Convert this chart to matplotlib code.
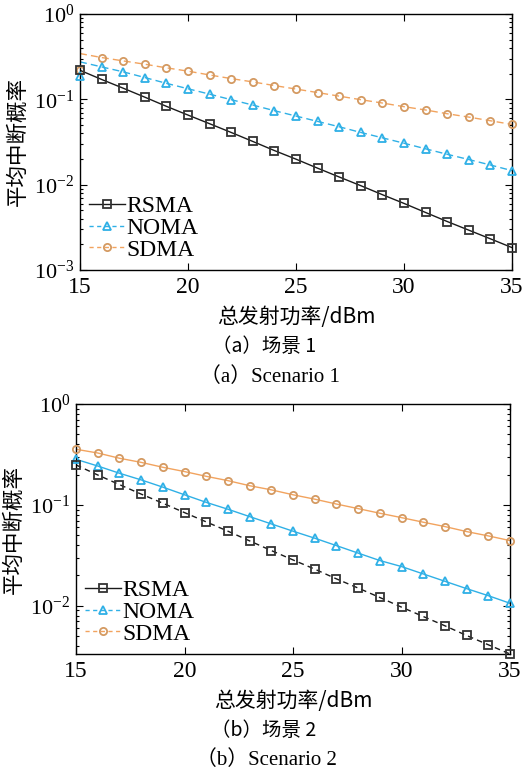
import matplotlib
matplotlib.use("Agg")
import matplotlib.pyplot as plt
from matplotlib.lines import Line2D
from matplotlib.ticker import LogLocator, NullFormatter
import numpy as np

plt.rcParams['font.family'] = ['Liberation Serif', 'Noto Sans CJK SC', 'DejaVu Sans']
plt.rcParams['mathtext.fontset'] = 'stix'

power_dbm = [15, 16, 17, 18, 19, 20, 21, 22, 23, 24, 25, 26, 27, 28, 29, 30, 31, 32, 33, 34, 35]

# Scenario 1 (line values)
rsma_a = [0.219, 0.171, 0.135, 0.106, 0.0828, 0.0654, 0.0518, 0.0409, 0.0321, 0.0251, 0.0199,
          0.0156, 0.0123, 0.00973, 0.00763, 0.00603, 0.00472, 0.00370, 0.00293, 0.00232, 0.00183]
noma_a = [0.275, 0.240, 0.210, 0.180, 0.154, 0.133, 0.115, 0.099, 0.0857, 0.0736, 0.0637,
          0.0551, 0.0477, 0.0409, 0.0354, 0.0306, 0.0263, 0.0227, 0.0197, 0.0170, 0.0146]
sdma_a = [0.344, 0.309, 0.282, 0.258, 0.234, 0.214, 0.193, 0.175, 0.160, 0.145, 0.132,
          0.120, 0.109, 0.099, 0.0905, 0.082, 0.075, 0.0678, 0.0619, 0.0561, 0.0508]
# marker values at 15 dBm in scenario 1 (differ from line start)
noma_a_marker15 = 0.187
sdma_a_marker15 = 0.219

# Scenario 2
rsma_b = [0.249, 0.198, 0.159, 0.128, 0.104, 0.0839, 0.0679, 0.0549, 0.044, 0.0353, 0.0285,
          0.0231, 0.0185, 0.015, 0.0121, 0.0097, 0.00784, 0.00634, 0.00508, 0.00411, 0.00333]
noma_b = [0.283, 0.243, 0.206, 0.177, 0.150, 0.126, 0.106, 0.0906, 0.0766, 0.0648, 0.0549,
          0.0468, 0.0395, 0.0333, 0.0281, 0.0245, 0.0207, 0.0175, 0.0148, 0.0126, 0.0106]
sdma_b = [0.356, 0.327, 0.290, 0.264, 0.236, 0.214, 0.192, 0.174, 0.155, 0.141, 0.126,
          0.114, 0.102, 0.0919, 0.0827, 0.0748, 0.0674, 0.061, 0.0544, 0.0493, 0.0443]

labels = ['RSMA', 'NOMA', 'SDMA']
xticks = [15, 20, 25, 30, 35]
xlabel = '总发射功率/dBm'
ylabel = '平均中断概率'
cap_a_cn, cap_a_en = '（a）场景 1', '（a）Scenario 1'
cap_b_cn, cap_b_en = '（b）场景 2', '（b）Scenario 2'

c_black = '#1a1a1a'
c_blue = '#2fb0e6'
c_orange_line = '#f2a35e'
c_orange_mk = '#d49a62'

W, H = 525, 774
fig = plt.figure(figsize=(W / 100, H / 100), dpi=100)

def ax_rect(l, t, r, b):
    return [l / W, 1 - b / H, (r - l) / W, (b - t) / H]

ax1 = fig.add_axes(ax_rect(80, 14, 512, 270))
ax2 = fig.add_axes(ax_rect(76, 404, 510, 654))

ms = 5.2
mew = 1.3
def plot_series(ax, x, y, color, ls, marker, mcolor=None, marker_y=None):
    mcolor = mcolor or color
    ax.plot(x, y, ls=ls, color=color, lw=1.0, zorder=2)
    my = y if marker_y is None else marker_y
    ax.plot(x, my, ls='none', marker=marker, ms=ms, mfc='none', mec=mcolor, mew=mew, zorder=3,
            clip_on=False)

nm = list(noma_a); nm[0] = noma_a_marker15
sm = list(sdma_a); sm[0] = sdma_a_marker15
plot_series(ax1, power_dbm, sdma_a, c_orange_line, (0, (5, 3)), 'o', c_orange_mk, sm)
plot_series(ax1, power_dbm, noma_a, c_blue, (0, (5, 3)), '^', c_blue, nm)
plot_series(ax1, power_dbm, rsma_a, c_black, '-', 's', '#333333')

plot_series(ax2, power_dbm, sdma_b, c_orange_line, '-', 'o', c_orange_mk)
plot_series(ax2, power_dbm, noma_b, c_blue, '-', '^', c_blue)
plot_series(ax2, power_dbm, rsma_b, c_black, (0, (4, 3)), 's', '#333333')

handles = [
    Line2D([], [], color=c_black, ls='-', marker='s', mfc='none', mec='#333333', ms=ms, mew=mew, lw=1.0),
    Line2D([], [], color=c_blue, ls=(0, (3, 2.5)), marker='^', mfc='none', mec=c_blue, ms=ms, mew=mew, lw=1.0),
    Line2D([], [], color=c_orange_line, ls=(0, (3, 2.5)), marker='o', mfc='none', mec=c_orange_mk, ms=ms, mew=mew, lw=1.0),
]

for ax, ylo in [(ax1, 1e-3), (ax2, rsma_b[-1])]:
    ax.set_yscale('log')
    ax.set_xlim(15, 35)
    ax.set_ylim(ylo, 1)
    ax.set_xticks(xticks)
    ax.set_xticklabels([str(t) for t in xticks])
    ax.yaxis.set_major_locator(LogLocator(base=10, numticks=10))
    ax.yaxis.set_minor_locator(LogLocator(base=10, subs=np.arange(2, 10), numticks=10))
    ax.yaxis.set_minor_formatter(NullFormatter())
    ax.tick_params(which='both', direction='in', top=True, right=True, width=0.8)
    ax.tick_params(which='major', length=5)
    ax.tick_params(axis='x', which='major', labelsize=17, pad=5)
    ax.tick_params(axis='y', which='major', labelsize=16, pad=4)
    ax.tick_params(which='minor', length=2.5)
    for s in ax.spines.values():
        s.set_linewidth(1.0)
    ax.set_xlabel(xlabel, fontsize=15, family=['Noto Sans CJK SC', 'Liberation Serif'], labelpad=6)
    ax.set_ylabel(ylabel, fontsize=15.5, family=['Noto Sans CJK SC', 'Liberation Serif'], labelpad=4)
    ax.legend(handles, labels, loc='lower left', frameon=False, fontsize=17,
              handlelength=1.5, handletextpad=0.05, labelspacing=0.0,
              borderaxespad=0.2, borderpad=0.2)

cn_fam = ['Noto Sans CJK SC', 'Liberation Serif']
en_fam = ['Liberation Serif', 'Noto Sans CJK SC']
fig.text(264 / W, 1 - 347 / H, cap_a_cn, ha='center', va='center', fontsize=14, family=cn_fam)
fig.text(270 / W, 1 - 377 / H, cap_a_en, ha='center', va='center', fontsize=15, family=en_fam)
fig.text(264 / W, 1 - 730 / H, cap_b_cn, ha='center', va='center', fontsize=14, family=cn_fam)
fig.text(266 / W, 1 - 760 / H, cap_b_en, ha='center', va='center', fontsize=15, family=en_fam)

fig.savefig('out.png', dpi=100)
